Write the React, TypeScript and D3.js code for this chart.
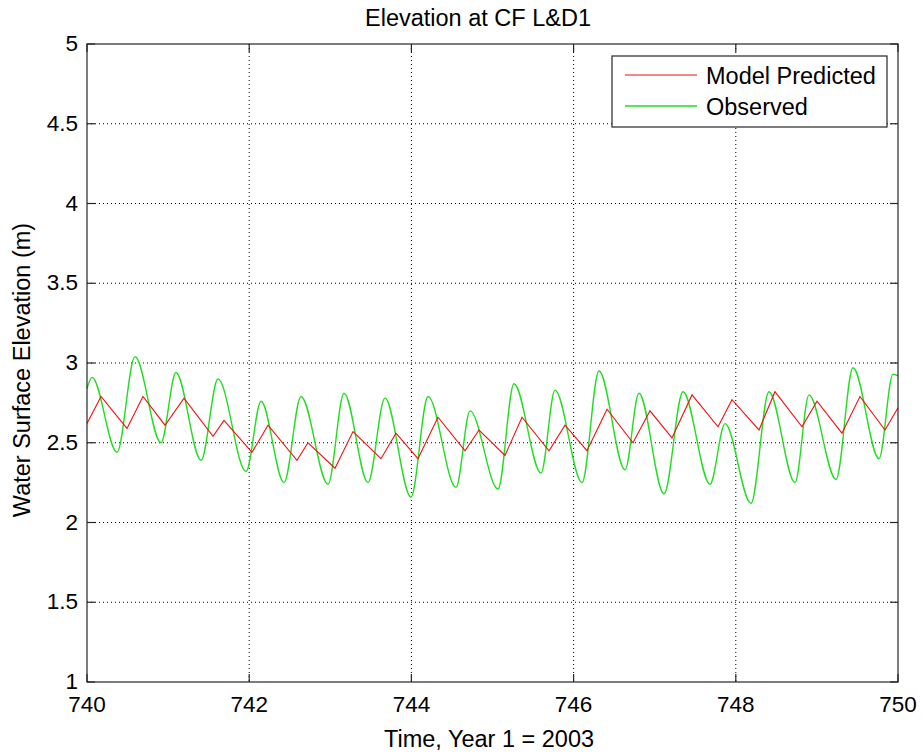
import React from "react";
import * as d3 from "d3";

const modelTime = [740.0, 740.173, 740.493, 740.69, 740.962, 741.196, 741.554, 741.689, 742.035, 742.232, 742.589, 742.725, 743.058, 743.28, 743.625, 743.81, 744.081, 744.328, 744.661, 744.834, 745.154, 745.364, 745.697, 745.894, 746.165, 746.412, 746.732, 746.942, 747.213, 747.46, 747.781, 747.953, 748.286, 748.483, 748.816, 749.001, 749.309, 749.531, 749.84, 750.0];
const modelValue = [2.62, 2.79, 2.59, 2.79, 2.61, 2.78, 2.54, 2.64, 2.44, 2.61, 2.39, 2.5, 2.34, 2.57, 2.4, 2.56, 2.4, 2.66, 2.45, 2.58, 2.42, 2.66, 2.45, 2.61, 2.45, 2.71, 2.5, 2.7, 2.53, 2.8, 2.6, 2.77, 2.58, 2.82, 2.6, 2.76, 2.56, 2.79, 2.58, 2.72];

const obsTime = [740.0, 740.062, 740.37, 740.592, 740.912, 741.097, 741.406, 741.615, 741.961, 742.146, 742.429, 742.639, 742.972, 743.169, 743.465, 743.674, 743.995, 744.205, 744.55, 744.723, 745.068, 745.265, 745.598, 745.771, 746.104, 746.313, 746.634, 746.806, 747.115, 747.349, 747.682, 747.867, 748.187, 748.409, 748.73, 748.903, 749.236, 749.445, 749.766, 749.938, 750.0];
const obsValue = [2.84, 2.91, 2.44, 3.04, 2.5, 2.94, 2.39, 2.9, 2.32, 2.76, 2.25, 2.79, 2.24, 2.81, 2.25, 2.78, 2.16, 2.79, 2.22, 2.7, 2.21, 2.87, 2.31, 2.83, 2.25, 2.95, 2.33, 2.81, 2.18, 2.82, 2.24, 2.62, 2.12, 2.82, 2.25, 2.8, 2.27, 2.97, 2.4, 2.93, 2.92];

const xTicks = [740, 742, 744, 746, 748, 750];
const yTicks = [1, 1.5, 2, 2.5, 3, 3.5, 4, 4.5, 5];

const title = "Elevation at CF L&D1";
const xLabel = "Time, Year 1 = 2003";
const yLabel = "Water Surface Elevation (m)";
const seriesNames = ["Model Predicted", "Observed"];

const W = 923;
const H = 754;
const L = 87, R = 898, T = 44, B = 682;
const FONT = "'Liberation Sans', Arial, Helvetica, sans-serif";

export default function App() {
  const x = d3.scaleLinear().domain([740, 750]).range([L, R]);
  const y = d3.scaleLinear().domain([1, 5]).range([B, T]);

  const modelData = modelTime.map((t, i) => [t, modelValue[i]] as [number, number]);
  const obsData = obsTime.map((t, i) => [t, obsValue[i]] as [number, number]);

  const modelLine = d3.line<[number, number]>().x((d) => x(d[0])).y((d) => y(d[1])).curve(d3.curveLinear);
  const obsLine = d3.line<[number, number]>().x((d) => x(d[0])).y((d) => y(d[1])).curve(d3.curveMonotoneX);

  const tickLen = 8;
  const frame = "#262626";

  return (
    <svg width={W} height={H} style={{ position: "absolute", left: 0, top: 0, background: "#fff" }} fontFamily={FONT}>
      <rect x={0} y={0} width={W} height={H} fill="#fff" />
      {xTicks.slice(1, -1).map((t) => (
        <line key={"gx" + t} x1={x(t)} x2={x(t)} y1={T} y2={B} stroke="#000" strokeWidth={1} strokeDasharray="1,3" />
      ))}
      {yTicks.slice(1, -1).map((t) => (
        <line key={"gy" + t} x1={L} x2={R} y1={y(t)} y2={y(t)} stroke="#000" strokeWidth={1} strokeDasharray="1,3" />
      ))}
      <path d={obsLine(obsData) || ""} fill="none" stroke="#22dd22" strokeWidth={1.4} />
      <path d={modelLine(modelData) || ""} fill="none" stroke="#ee1111" strokeWidth={1.1} />
      <rect x={L} y={T} width={R - L} height={B - T} fill="none" stroke={frame} strokeWidth={1.2} />
      {xTicks.map((t) => (
        <g key={"tx" + t}>
          <line x1={x(t)} x2={x(t)} y1={B} y2={B - tickLen} stroke={frame} strokeWidth={1.2} />
          <line x1={x(t)} x2={x(t)} y1={T} y2={T + tickLen} stroke={frame} strokeWidth={1.2} />
          <text x={x(t)} y={B + 30} textAnchor="middle" fontSize={22.5} fill="#000">{t}</text>
        </g>
      ))}
      {yTicks.map((t) => (
        <g key={"ty" + t}>
          <line x1={L} x2={L + tickLen} y1={y(t)} y2={y(t)} stroke={frame} strokeWidth={1.2} />
          <line x1={R} x2={R - tickLen} y1={y(t)} y2={y(t)} stroke={frame} strokeWidth={1.2} />
          <text x={L - 9} y={y(t) + 7} textAnchor="end" fontSize={22.5} fill="#000">{t}</text>
        </g>
      ))}
      <text x={478} y={26} textAnchor="middle" fontSize={23.5} fill="#000">{title}</text>
      <text x={489} y={747} textAnchor="middle" fontSize={23.5} fill="#000">{xLabel}</text>
      <text transform={`translate(30, 370) rotate(-90)`} textAnchor="middle" fontSize={23.5} fill="#000">{yLabel}</text>
      <rect x={612} y={56} width={275} height={71} fill="#fff" stroke={frame} strokeWidth={1.2} />
      <line x1={625} x2={697} y1={75} y2={75} stroke="#ee1111" strokeWidth={1.1} />
      <line x1={625} x2={697} y1={106} y2={106} stroke="#22dd22" strokeWidth={1.4} />
      <text x={706} y={84} fontSize={23.5} fill="#000">{seriesNames[0]}</text>
      <text x={706} y={115} fontSize={23.5} fill="#000">{seriesNames[1]}</text>
    </svg>
  );
}
